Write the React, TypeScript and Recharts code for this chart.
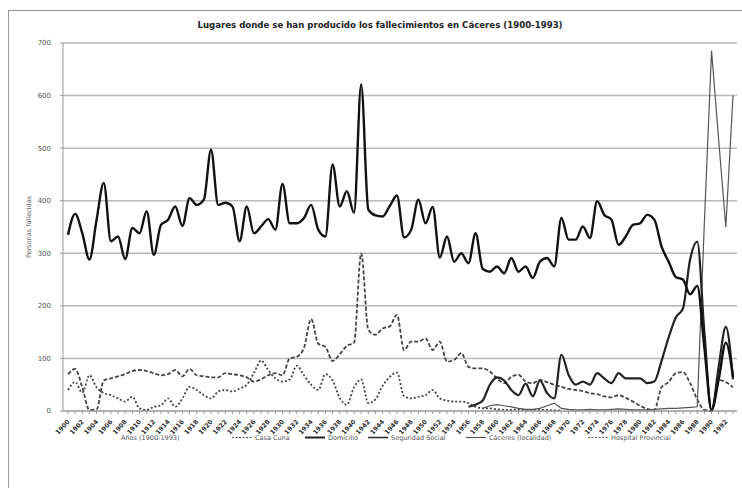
import { CartesianGrid, Line, LineChart, XAxis, YAxis } from 'recharts';

// years 1900-1993
const years = [
  1900, 1901, 1902, 1903, 1904, 1905, 1906, 1907, 1908, 1909,
  1910, 1911, 1912, 1913, 1914, 1915, 1916, 1917, 1918, 1919,
  1920, 1921, 1922, 1923, 1924, 1925, 1926, 1927, 1928, 1929,
  1930, 1931, 1932, 1933, 1934, 1935, 1936, 1937, 1938, 1939,
  1940, 1941, 1942, 1943, 1944, 1945, 1946, 1947, 1948, 1949,
  1950, 1951, 1952, 1953, 1954, 1955, 1956, 1957, 1958, 1959,
  1960, 1961, 1962, 1963, 1964, 1965, 1966, 1967, 1968, 1969,
  1970, 1971, 1972, 1973, 1974, 1975, 1976, 1977, 1978, 1979,
  1980, 1981, 1982, 1983, 1984, 1985, 1986, 1987, 1988, 1989,
  1990, 1991, 1992, 1993,
];

const casaCuna = [
  40, 55, 35, 68, 45, 34, 30, 24, 18, 27,
  5, 2, 8, 11, 24, 8, 24, 46, 40, 30,
  24, 37, 40, 37, 43, 50, 72, 96, 78, 62,
  56, 60, 86, 68, 50, 40, 70, 58, 25, 12,
  45, 60, 15, 22, 48, 65, 73, 28, 24, 27,
  30, 40, 24, 20, 18, 18, 15, 8, 5, 5,
  3, 2, 2, 3, 2, 2, 2, 2, 1, 1,
  null, null, null, null, null, null, null, null, null, null,
  null, null, null, null, null, null, null, null, null, null,
  null, null, null, null,
];

const domicilio = [
  335, 375, 338, 288, 364, 434, 323, 332, 289, 348,
  338, 380, 297, 354, 364, 389, 352, 405, 392, 402,
  497, 392, 396, 389, 323, 389, 338, 351, 365, 345,
  432, 357, 357, 367, 392, 345, 332, 469, 389, 418,
  377, 621, 383, 372, 370, 390, 410, 330, 345, 402,
  357, 388, 292, 332, 284, 300, 281, 338, 270, 265,
  275, 262, 291, 265, 275, 253, 284, 291, 275, 367,
  326, 326, 351, 329, 399, 373, 364, 316, 332, 354,
  357, 373, 364, 313, 284, 255, 250, 222, 238, 120,
  2, 60, 130, 65,
];

const seguridadSocial = [
  null, null, null, null, null, null, null, null, null, null,
  null, null, null, null, null, null, null, null, null, null,
  null, null, null, null, null, null, null, null, null, null,
  null, null, null, null, null, null, null, null, null, null,
  null, null, null, null, null, null, null, null, null, null,
  null, null, null, null, null, null, 8, 12, 20, 50,
  64, 58, 40, 30, 52, 28, 58, 34, 24, 107,
  69, 50, 56, 50, 72, 62, 53, 72, 62, 62,
  62, 53, 56, 95, 140, 178, 195, 288, 322, 150,
  0, 85, 160, 60,
];

const caceres = [
  null, null, null, null, null, null, null, null, null, null,
  null, null, null, null, null, null, null, null, null, null,
  null, null, null, null, null, null, null, null, null, null,
  null, null, null, null, null, null, null, null, null, null,
  null, null, null, null, null, null, null, null, null, null,
  null, null, null, null, null, null, null, null, 5, 10,
  12, 10, 8, 5, 3, 3, 5, 10, 15, 5,
  3, 2, 2, 3, 2, 2, 3, 4, 3, 2,
  2, 2, 3, 4, 5, 5, 6, 7, 8, 360,
  685, 515, 350, 600,
];

const hospital = [
  70, 80, 45, 2, 3, 58, 62, 66, 70, 76,
  78, 76, 72, 68, 70, 78, 66, 80, 68, 66,
  64, 64, 72, 70, 68, 64, 56, 60, 68, 72,
  68, 100, 103, 120, 175, 128, 122, 95, 108, 124,
  130, 300, 154, 145, 157, 161, 183, 116, 132, 132,
  138, 116, 132, 94, 97, 110, 84, 81, 81, 75,
  62, 53, 65, 69, 56, 53, 59, 55, 50, 46,
  42, 40, 38, 34, 32, 28, 26, 30, 25, 18,
  10, 4, 2, 45, 55, 72, 74, 53, 22, 2,
  0, 59, 55, 45,
];

const yTicks = [0, 100, 200, 300, 400, 500, 600, 700];

const data = years.map((year, i) => ({
  year,
  casaCuna: casaCuna[i],
  domicilio: domicilio[i],
  seguridadSocial: seguridadSocial[i],
  caceres: caceres[i],
  hospital: hospital[i],
}));

const FONT = '"DejaVu Sans", sans-serif';

const YearTick = ({ x, y, payload }: any) => {
  if (payload.value % 2 !== 0) return <g />;
  return (
    <text
      transform={`translate(${x + 2},${y + 6}) rotate(-48)`}
      textAnchor="end"
      fontSize={6.3}
      fontWeight="bold"
      fill="#333"
      fontFamily={FONT}
    >
      {payload.value}
    </text>
  );
};

const legendItems = [
  { label: 'Casa Cuna', x: 232, dash: '2 1.5', w: 1.2, color: '#555' },
  { label: 'Domicilio', x: 305, dash: undefined, w: 2, color: '#222' },
  { label: 'Seguridad Social', x: 368, dash: undefined, w: 1.6, color: '#333' },
  { label: 'Cáceres (localidad)', x: 466, dash: undefined, w: 1.2, color: '#555' },
  { label: 'Hospital Provincial', x: 588, dash: '2 1.5', w: 1.2, color: '#555' },
];

export default function App() {
  return (
    <div
      style={{
        position: 'absolute',
        left: 0,
        top: 0,
        width: 742,
        height: 488,
        background: '#fff',
        overflow: 'hidden',
        fontFamily: FONT,
      }}
    >
      <div
        style={{
          position: 'absolute',
          left: 8,
          top: 10,
          width: 760,
          height: 500,
          border: '1px solid #9a9a9a',
        }}
      />
      <div style={{ position: 'absolute', left: 0, top: 0 }}>
        <LineChart
          width={742}
          height={488}
          data={data}
          margin={{ top: 43, right: 5, left: 23, bottom: 47 }}
        >
          <CartesianGrid vertical={false} stroke="#b8b8b8" strokeWidth={1.5} />
          <XAxis
            dataKey="year"
            interval={0}
            tick={<YearTick />}
            tickSize={3}
            stroke="#999"
            height={30}
            padding={{ left: 5, right: 4 }}
          />
          <YAxis
            domain={[0, 700]}
            ticks={yTicks}
            width={40}
            tickSize={3}
            tickMargin={9}
            stroke="#999"
            tick={{ fontSize: 7, fill: '#555', fontFamily: FONT }}
            label={{
              value: 'Personas fallecidas',
              angle: -90,
              position: 'insideLeft',
              offset: 6,
              style: { fontSize: 6.5, fill: '#666', fontFamily: FONT, textAnchor: 'middle' },
            }}
          />
          <Line
            dataKey="casaCuna"
            type="monotone"
            stroke="#444"
            strokeWidth={1.8}
            strokeDasharray="2 2"
            dot={false}
            connectNulls={false}
            isAnimationActive={false}
          />
          <Line
            dataKey="hospital"
            type="monotone"
            stroke="#444"
            strokeWidth={1.8}
            strokeDasharray="4 2"
            dot={false}
            isAnimationActive={false}
          />
          <Line
            dataKey="caceres"
            type="linear"
            stroke="#555"
            strokeWidth={1.2}
            dot={false}
            isAnimationActive={false}
          />
          <Line
            dataKey="seguridadSocial"
            type="monotone"
            stroke="#222"
            strokeWidth={2.2}
            dot={false}
            isAnimationActive={false}
          />
          <Line
            dataKey="domicilio"
            type="monotone"
            stroke="#111"
            strokeWidth={2.4}
            dot={false}
            isAnimationActive={false}
          />
        </LineChart>
      </div>
      <svg
        width={742}
        height={488}
        style={{ position: 'absolute', left: 0, top: 0, pointerEvents: 'none' }}
      >
        <text
          x={380}
          y={28}
          textAnchor="middle"
          fontSize={8.6}
          fontWeight="bold"
          fill="#222"
          fontFamily={FONT}
        >
          Lugares donde se han producido los fallecimientos en Cáceres (1900-1993)
        </text>
        <text x={121} y={440} fontSize={6.5} fill="#555" fontFamily={FONT}>
          Años (1900-1993)
        </text>
        {legendItems.map((it) => (
          <g key={it.label}>
            <line
              x1={it.x}
              x2={it.x + 20}
              y1={437.5}
              y2={437.5}
              stroke={it.color}
              strokeWidth={it.w}
              strokeDasharray={it.dash}
            />
            <text x={it.x + 23} y={440} fontSize={6.5} fill="#555" fontFamily={FONT}>
              {it.label}
            </text>
          </g>
        ))}
      </svg>
    </div>
  );
}
